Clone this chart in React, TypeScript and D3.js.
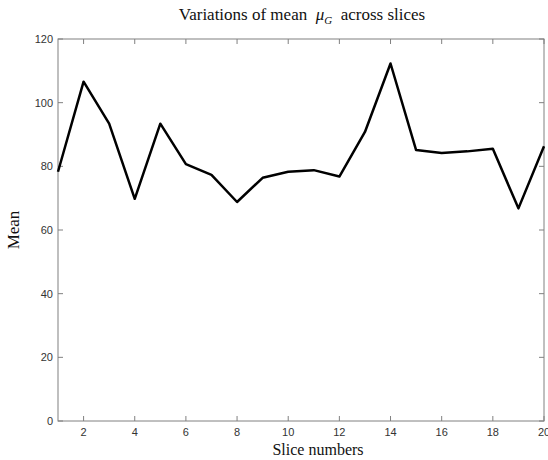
import React, { useEffect, useRef } from 'react'
import * as d3 from 'd3'

const slices = d3.range(1, 21)
const means = [78.3, 106.6, 93.4, 69.8, 93.4, 80.7, 77.3, 68.8, 76.4, 78.3,
  78.8, 76.8, 90.8, 112.3, 85.1, 84.2, 84.7, 85.5, 66.8, 86.3]
const xTicks = [2, 4, 6, 8, 10, 12, 14, 16, 18, 20]
const yTicks = [0, 20, 40, 60, 80, 100, 120]

const W = 548
const H = 460
const margin = { top: 39, right: 4, bottom: 39, left: 58 }

const App = () => {
  const ref = useRef<SVGSVGElement>(null)

  useEffect(() => {
    const svg = d3.select(ref.current)
    svg.selectAll('*').remove()

    const x = d3.scaleLinear().domain([1, 20]).range([margin.left, W - margin.right])
    const y = d3.scaleLinear().domain([0, 120]).range([H - margin.bottom, margin.top])
    const axisColor = '#808080'
    const tickFont = 'Arial, "Liberation Sans", sans-serif'

    // frame
    svg.append('rect')
      .attr('x', x(1)).attr('y', y(120))
      .attr('width', x(20) - x(1)).attr('height', y(0) - y(120))
      .attr('fill', 'white').attr('stroke', axisColor).attr('stroke-width', 1)

    // inward ticks on all four sides
    const tl = 5
    const g = svg.append('g').attr('stroke', axisColor).attr('stroke-width', 1)
    xTicks.forEach(t => {
      g.append('line').attr('x1', x(t)).attr('x2', x(t)).attr('y1', y(0)).attr('y2', y(0) - tl)
      g.append('line').attr('x1', x(t)).attr('x2', x(t)).attr('y1', y(120)).attr('y2', y(120) + tl)
    })
    yTicks.forEach(t => {
      g.append('line').attr('x1', x(1)).attr('x2', x(1) + tl).attr('y1', y(t)).attr('y2', y(t))
      g.append('line').attr('x1', x(20)).attr('x2', x(20) - tl).attr('y1', y(t)).attr('y2', y(t))
    })

    svg.append('g').selectAll('text').data(xTicks).join('text')
      .attr('x', d => x(d)).attr('y', y(0) + 15)
      .attr('text-anchor', 'middle')
      .attr('font-family', tickFont).attr('font-size', 11).attr('fill', '#333')
      .text(d => d)

    svg.append('g').selectAll('text').data(yTicks).join('text')
      .attr('x', x(1) - 5).attr('y', d => y(d) + 4)
      .attr('text-anchor', 'end')
      .attr('font-family', tickFont).attr('font-size', 11).attr('fill', '#333')
      .text(d => d)

    const line = d3.line<number>()
      .x((_, i) => x(slices[i]))
      .y(d => y(d))

    svg.append('path')
      .datum(means)
      .attr('d', line)
      .attr('fill', 'none')
      .attr('stroke', '#000')
      .attr('stroke-width', 2.5)
      .attr('stroke-linejoin', 'round')

    const serif = '"Times New Roman", "Liberation Serif", serif'
    const title = svg.append('text')
      .attr('x', 302).attr('y', 20)
      .attr('text-anchor', 'middle')
      .style('white-space', 'pre')
      .attr('font-family', serif).attr('font-size', 17).attr('fill', '#111')
    title.append('tspan').text('Variations of mean  ')
    title.append('tspan').attr('font-style', 'italic').text('μ')
    title.append('tspan').attr('font-style', 'italic').attr('font-size', 11).attr('dy', 4).text('G')
    title.append('tspan').attr('dy', -4).text('  across slices')

    svg.append('text')
      .attr('x', 318).attr('y', 455)
      .attr('text-anchor', 'middle')
      .attr('font-family', serif).attr('font-size', 16).attr('fill', '#111')
      .text('Slice numbers')

    svg.append('text')
      .attr('transform', `translate(19, ${(y(0) + y(120)) / 2}) rotate(-90)`)
      .attr('text-anchor', 'middle')
      .attr('font-family', serif).attr('font-size', 17).attr('fill', '#111')
      .text('Mean')
  }, [])

  return (
    <svg ref={ref} width={W} height={H}
      style={{ position: 'absolute', left: 0, top: 0, background: 'white' }} />
  )
}

export default App
